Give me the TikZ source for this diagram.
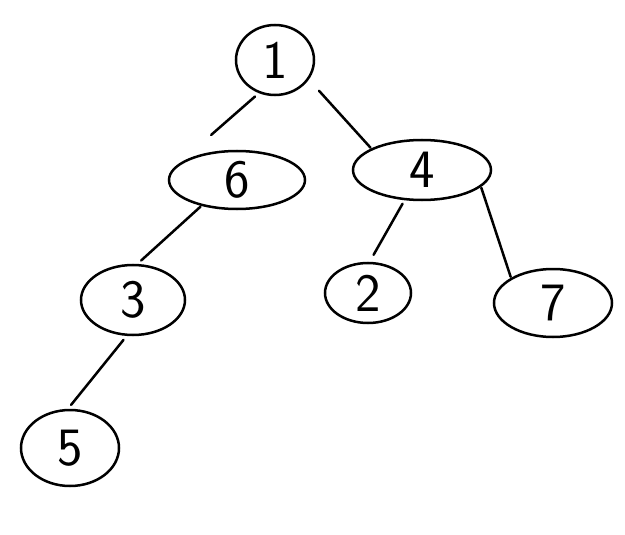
\documentclass[tikz,border=0pt]{standalone}
\usetikzlibrary{shapes.geometric}
\begin{document}
\begin{tikzpicture}[x=1pt,y=-1pt,
  tnode/.style={draw,ellipse,line width=2.5pt,inner sep=0pt,font=\fontsize{54}{54}\selectfont\sffamily},
  edge/.style={line width=2.5pt,line cap=round}]
\useasboundingbox[fill=white] (0,0) rectangle (625,535);
\node[tnode,minimum width=78pt,minimum height=70pt] (n1) at (275,60) {1};
\node[tnode,minimum width=136pt,minimum height=58pt] (n6) at (237,180) {6};
\node[tnode,minimum width=138pt,minimum height=60pt] (n4) at (422,170) {4};
\node[tnode,minimum width=104pt,minimum height=70pt] (n3) at (133,300) {3};
\node[tnode,minimum width=86pt,minimum height=60pt] (n2) at (368,293) {2};
\node[tnode,minimum width=118pt,minimum height=68pt] (n7) at (553,303) {7};
\node[tnode,minimum width=98pt,minimum height=76pt] (n5) at (70,448) {5};
\draw[edge,shorten <=5pt,shorten >=47pt] (n1.244) -- (n6.167);
\draw[edge,shorten <=15pt,shorten >=1pt] (n1.330) -- (n4.157);
\draw[edge,shorten <=1pt,shorten >=5pt] (n6.216) -- (n3.83);
\draw[edge,shorten <=4pt,shorten >=8pt] (n4.240) -- (n2.87);
\draw[edge,shorten <=1pt,shorten >=1pt] (n4.344) -- (n7.149);
\draw[edge,shorten <=5pt,shorten >=5pt] (n3.260) -- (n5.93);
\end{tikzpicture}
\end{document}
